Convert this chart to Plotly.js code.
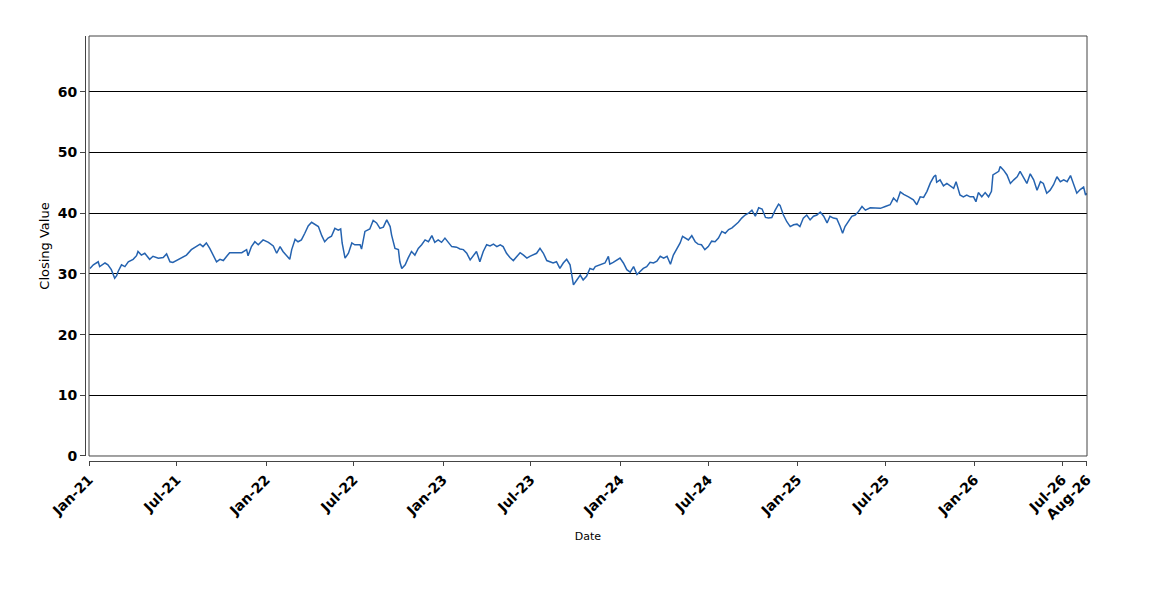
<!DOCTYPE html>
<html>
<head>
<meta charset="utf-8">
<script src="https://cdn.plot.ly/plotly-3.0.1.min.js"></script>
<style>html,body{margin:0;padding:0;background:#fff;}#chart{width:1150px;height:600px;}</style>
</head>
<body>
<div id="chart"></div>
<script>
const dates = [
"2021-01-03","2021-01-10","2021-01-20","2021-01-23","2021-02-03","2021-02-09","2021-02-16","2021-02-23","2021-02-27","2021-03-02",
"2021-03-09","2021-03-16","2021-03-23","2021-04-02","2021-04-09","2021-04-12","2021-04-19","2021-04-26","2021-05-06","2021-05-13",
"2021-05-24","2021-06-03","2021-06-10","2021-06-17","2021-06-23","2021-06-30","2021-07-11","2021-07-21","2021-07-31","2021-08-11",
"2021-08-18","2021-08-24","2021-08-31","2021-09-07","2021-09-14","2021-09-21","2021-09-28","2021-10-05","2021-10-12","2021-10-18",
"2021-11-01","2021-11-12","2021-11-22","2021-11-25","2021-12-02","2021-12-09","2021-12-16","2021-12-26","2022-01-06","2022-01-16",
"2022-01-23","2022-01-30","2022-02-05","2022-02-12","2022-02-19","2022-02-23","2022-03-02","2022-03-08","2022-03-15","2022-03-22",
"2022-03-29","2022-04-05","2022-04-12","2022-04-19","2022-04-26","2022-05-02","2022-05-09","2022-05-16","2022-05-23","2022-05-30",
"2022-06-04","2022-06-07","2022-06-13","2022-06-20","2022-06-27","2022-07-03","2022-07-14","2022-07-17","2022-07-24","2022-08-03",
"2022-08-10","2022-08-17","2022-08-24","2022-08-31","2022-09-07","2022-09-14","2022-09-17","2022-09-24","2022-10-01","2022-10-04",
"2022-10-08","2022-10-15","2022-10-21","2022-10-28","2022-11-04","2022-11-11","2022-11-18","2022-11-25","2022-12-02","2022-12-09",
"2022-12-15","2022-12-22","2022-12-29","2023-01-05","2023-01-12","2023-01-19","2023-01-29","2023-02-05","2023-02-12","2023-02-19",
"2023-02-26","2023-03-04","2023-03-11","2023-03-18","2023-03-25","2023-04-01","2023-04-08","2023-04-15","2023-04-22","2023-04-29",
"2023-05-05","2023-05-12","2023-05-19","2023-05-26","2023-06-02","2023-06-09","2023-06-16","2023-06-23","2023-06-29","2023-07-06",
"2023-07-13","2023-07-20","2023-07-27","2023-08-03","2023-08-10","2023-08-16","2023-08-23","2023-08-30","2023-09-06","2023-09-13",
"2023-09-20","2023-09-23","2023-09-27","2023-10-04","2023-10-11","2023-10-17","2023-10-24","2023-10-31","2023-11-07","2023-11-11",
"2023-11-21","2023-12-01","2023-12-08","2023-12-11","2023-12-18","2023-12-25","2024-01-01","2024-01-08","2024-01-15","2024-01-22",
"2024-01-29","2024-02-05","2024-02-11","2024-02-18","2024-02-25","2024-03-03","2024-03-10","2024-03-17","2024-03-24","2024-03-31",
"2024-04-07","2024-04-14","2024-04-20","2024-04-27","2024-05-04","2024-05-09","2024-05-14","2024-05-21","2024-05-28","2024-06-04",
"2024-06-10","2024-06-17","2024-06-24","2024-07-01","2024-07-08","2024-07-15","2024-07-22","2024-07-29","2024-08-05","2024-08-12",
"2024-08-19","2024-08-26","2024-09-01","2024-09-08","2024-09-15","2024-09-22","2024-09-29","2024-10-06","2024-10-13","2024-10-20",
"2024-10-27","2024-11-02","2024-11-09","2024-11-16","2024-11-23","2024-11-26","2024-12-03","2024-12-10","2024-12-17","2024-12-24",
"2024-12-31","2025-01-06","2025-01-13","2025-01-20","2025-01-27","2025-02-03","2025-02-10","2025-02-17","2025-02-24","2025-03-03",
"2025-03-09","2025-03-16","2025-03-23","2025-03-30","2025-04-04","2025-04-09","2025-04-16","2025-04-23","2025-04-30","2025-05-07",
"2025-05-14","2025-05-21","2025-05-31","2025-06-10","2025-06-21","2025-07-01","2025-07-11","2025-07-18","2025-07-25","2025-08-01",
"2025-08-08","2025-08-18","2025-08-28","2025-09-04","2025-09-11","2025-09-18","2025-09-25","2025-10-02","2025-10-09","2025-10-13",
"2025-10-15","2025-10-22","2025-10-29","2025-11-05","2025-11-12","2025-11-19","2025-11-24","2025-12-02","2025-12-09","2025-12-16",
"2025-12-23","2025-12-30","2026-01-04","2026-01-09","2026-01-16","2026-01-23","2026-01-30","2026-02-05","2026-02-08","2026-02-13",
"2026-02-20","2026-02-23","2026-03-02","2026-03-09","2026-03-16","2026-03-23","2026-03-30","2026-04-05","2026-04-12","2026-04-19",
"2026-04-26","2026-05-03","2026-05-10","2026-05-17","2026-05-23","2026-05-30","2026-06-06","2026-06-13","2026-06-20","2026-06-27",
"2026-07-04","2026-07-11","2026-07-18","2026-07-24","2026-07-31","2026-08-07","2026-08-14","2026-08-18","2026-08-21"
];
const closingValues = [
30.9,31.5,32.0,31.2,31.8,31.5,30.7,29.3,29.7,30.4,
31.5,31.2,32.0,32.4,33.0,33.7,33.1,33.4,32.4,32.9,
32.6,32.7,33.3,32.0,31.9,32.2,32.6,33.1,34.0,34.6,
34.9,34.5,35.1,34.2,33.1,32.0,32.4,32.2,32.9,33.5,
33.5,33.5,34.0,33.0,34.5,35.3,34.8,35.6,35.2,34.6,
33.4,34.5,33.7,33.1,32.4,34.0,35.7,35.3,35.6,36.7,
37.9,38.5,38.1,37.8,36.3,35.3,35.9,36.2,37.5,37.2,
37.4,35.1,32.6,33.4,35.1,34.8,34.8,34.1,37.0,37.4,
38.8,38.4,37.5,37.7,38.9,37.8,36.4,34.2,34.0,32.0,
30.9,31.5,32.6,33.7,33.1,34.2,34.8,35.6,35.3,36.3,
35.2,35.6,35.2,35.9,35.2,34.5,34.4,34.1,34.0,33.4,
32.3,32.9,33.7,32.0,33.7,34.8,34.6,34.9,34.5,34.8,
34.5,33.4,32.7,32.2,32.9,33.5,33.1,32.6,32.9,33.1,
33.4,34.2,33.4,32.2,32.0,31.8,32.0,30.9,31.8,32.4,
31.5,29.8,28.2,29.0,29.8,29.0,29.6,30.9,30.7,31.2,
31.5,31.8,32.9,31.6,31.9,32.3,32.6,31.8,30.7,30.3,
31.2,29.9,30.4,30.9,31.2,31.9,31.8,32.1,32.9,32.6,
32.9,31.6,33.1,34.2,35.1,36.2,36.0,35.6,36.3,35.3,
34.9,34.8,34.0,34.5,35.4,35.3,35.9,37.0,36.7,37.3,
37.6,38.1,38.5,39.2,39.7,40.0,40.5,39.5,40.9,40.7,
39.3,39.2,39.3,40.5,41.5,41.3,39.7,38.6,37.8,38.1,
38.2,37.8,39.2,39.7,38.9,39.5,39.7,40.2,39.5,38.4,
39.5,39.2,39.1,37.8,36.7,37.8,38.6,39.5,39.7,40.3,
41.1,40.5,40.9,40.8,40.8,41.1,41.4,42.5,41.9,43.5,
43.1,42.7,42.2,41.4,42.7,42.6,43.6,45.0,46.0,46.3,
45.1,45.5,44.5,44.9,44.5,44.1,45.2,43.0,42.7,43.0,
42.7,42.7,41.9,43.4,42.7,43.4,42.7,43.6,46.3,46.5,
46.9,47.7,47.1,46.3,44.9,45.5,46.0,46.9,46.0,44.9,
46.5,45.5,43.8,45.2,44.9,43.3,43.8,44.7,46.0,45.2,
45.5,45.2,46.2,44.9,43.3,43.9,44.3,43.0,43.3
];
const xTickVals = ["2021-01-01","2021-07-01","2022-01-01","2022-07-01","2023-01-01","2023-07-01","2024-01-01","2024-07-01","2025-01-01","2025-07-01","2026-01-01","2026-07-01","2026-08-21"];
const xTickText = ["Jan-21","Jul-21","Jan-22","Jul-22","Jan-23","Jul-23","Jan-24","Jul-24","Jan-25","Jul-25","Jan-26","Jul-26","Aug-26"];
const yTickVals = [0,10,20,30,40,50,60];

const trace = {
  x: dates, y: closingValues, type: 'scatter', mode: 'lines',
  line: {color: '#2563b0', width: 1.5}, hoverinfo: 'x+y'
};
const layout = {
  width: 1150, height: 600,
  margin: {l: 85, r: 63, t: 36, b: 139},
  paper_bgcolor: '#ffffff', plot_bgcolor: '#ffffff',
  showlegend: false,
  xaxis: {
    type: 'date', domain: [0.004, 1], anchor: 'free', position: 0,
    range: ['2021-01-01', '2026-08-21'],
    tickmode: 'array', tickvals: xTickVals, ticktext: xTickText,
    tickangle: -45, ticks: 'outside', ticklen: 4, tickcolor: '#444',
    showline: true, linecolor: '#444', linewidth: 1,
    showgrid: false, zeroline: false,
    tickfont: {family: 'DejaVu Sans', size: 14, color: '#000', weight: 'bold'},
    title: {text: 'Date', font: {family: 'DejaVu Sans', size: 11, color: '#000'}, standoff: 10}
  },
  yaxis: {
    domain: [0.0118, 1], anchor: 'free', position: 0,
    range: [0, 69.2],
    tickmode: 'array', tickvals: yTickVals,
    ticks: 'outside', ticklen: 5, tickcolor: '#444',
    showline: true, linecolor: '#444', linewidth: 1,
    showgrid: true, gridcolor: '#000', gridwidth: 1, zeroline: false,
    tickfont: {family: 'DejaVu Sans', size: 14, color: '#000', weight: 'bold'},
    title: {text: 'Closing Value', font: {family: 'DejaVu Sans', size: 13, color: '#000'}, standoff: 4}
  },
  shapes: [{
    type: 'rect', xref: 'x domain', yref: 'y domain', x0: 0, x1: 1, y0: 0, y1: 1,
    line: {color: '#444', width: 1}, fillcolor: 'rgba(0,0,0,0)', layer: 'above'
  }]
};
Plotly.newPlot('chart', [trace], layout, {displayModeBar: false, staticPlot: true});
</script>
</body>
</html>
